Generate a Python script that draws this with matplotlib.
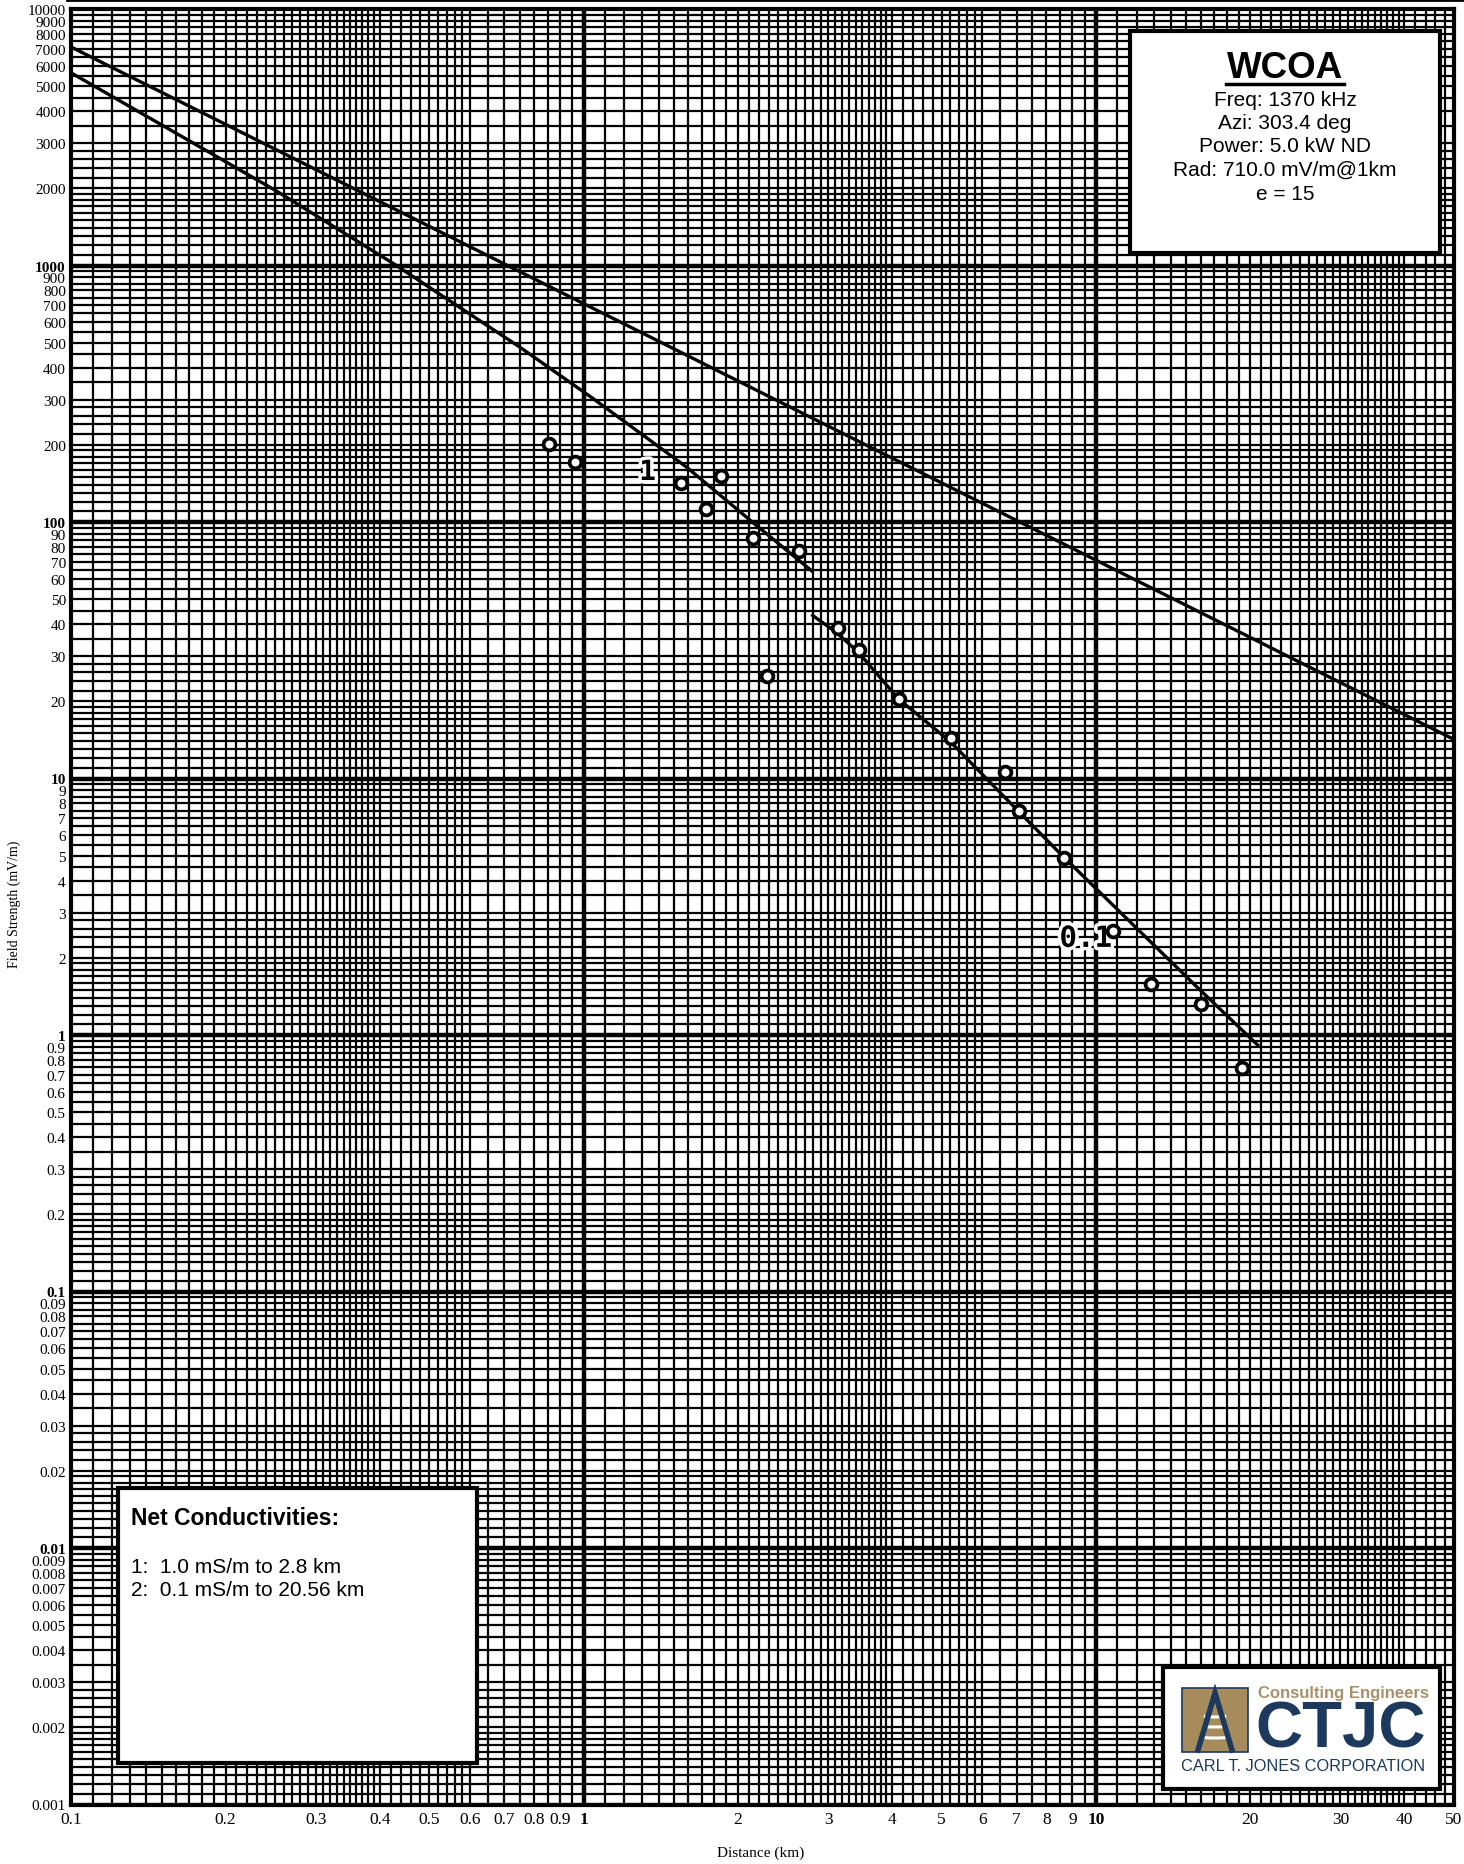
import matplotlib
matplotlib.use("Agg")
import matplotlib.pyplot as plt
import matplotlib.patches as mpatches
import matplotlib.patheffects as pe
from matplotlib.lines import Line2D
from matplotlib.ticker import NullLocator
import numpy as np

# inverse distance (unattenuated) field, 710 mV/m @ 1 km
inv_dist = [0.1, 50]
inv_field = [7100, 14.2]

# ground wave curve, 1.0 mS/m to 2.8 km
c1_dist = [0.1, 0.173, 0.251, 0.425, 0.75, 1.043, 1.586, 2.16, 2.79]
c1_field = [5630, 3000, 1955, 1018, 481, 303, 164, 98, 64.4]

# ground wave curve, 0.1 mS/m to 20.56 km
c2_dist = [2.8, 3.12, 3.44, 4.12, 5.2, 7.06, 8.64, 15.9, 20.69]
c2_field = [43.2, 37.0, 31.0, 20.4, 13.9, 7.45, 4.95, 1.51, 0.914]

# measured points
meas_dist = [0.856, 0.963, 1.55, 1.73, 1.85, 2.14, 2.28, 2.63, 3.13, 3.45,
             4.13, 5.21, 6.63, 7.08, 8.65, 10.78, 12.81, 16.06, 19.27]
meas_field = [201, 172, 142, 112, 151, 86.3, 25.0, 77.2, 38.5, 31.7,
              20.4, 14.4, 10.6, 7.45, 4.9, 2.54, 1.577, 1.324, 0.742]

x_tick_vals = [0.1, 0.2, 0.3, 0.4, 0.5, 0.6, 0.7, 0.8, 0.9, 1,
               2, 3, 4, 5, 6, 7, 8, 9, 10, 20, 30, 40, 50]
x_tick_labels = ["0.1", "0.2", "0.3", "0.4", "0.5", "0.6", "0.7", "0.8", "0.9", "1",
                 "2", "3", "4", "5", "6", "7", "8", "9", "10", "20", "30", "40", "50"]
y_decades = [0.001, 0.01, 0.1, 1, 10, 100, 1000]
y_mantissas = [1, 2, 3, 4, 5, 6, 7, 8, 9]

W, H = 1464, 1865
fig = plt.figure(figsize=(W / 100, H / 100), dpi=100)
fig.patch.set_facecolor("white")


def fx(px):
    return px / W


def fy(py):
    return 1 - py / H


ax = fig.add_axes([fx(71.4), fy(1805.5), (1454 - 71.4) / W, (1805.5 - 10) / H])
ax.set_xscale("log")
ax.set_yscale("log")
ax.set_xlim(0.1, 50)
ax.set_ylim(0.001, 10000)

# graph paper grid
xgrid = []
for d in [0.1, 1, 10]:
    rel = np.concatenate([np.arange(1, 4, 0.1), np.arange(4, 6, 0.2), np.arange(6, 10.001, 0.5)])
    xgrid.extend(np.round(rel * d, 6))
xgrid = [v for v in xgrid if v <= 50]
ygrid = []
for d in y_decades:
    rel = np.concatenate([np.arange(1, 2, 0.1), np.arange(2, 3, 0.2), np.arange(3, 10.001, 0.5)])
    ygrid.extend(np.round(rel * d, 8))

ax.vlines(xgrid, 0.001, 10000, colors="black", lw=1.6, zorder=1)
ax.hlines(ygrid, 0.1, 50, colors="black", lw=1.6, zorder=1)
ax.vlines([1, 10], 0.001, 10000, colors="black", lw=3.2, zorder=1)
ax.hlines([0.01, 0.1, 1, 10, 100, 1000], 0.1, 50, colors="black", lw=3.2, zorder=1)

for s in ax.spines.values():
    s.set_linewidth(3)

# curves
ax.plot(inv_dist, inv_field, color="black", lw=2.4, zorder=4)
ax.plot(c1_dist, c1_field, color="black", lw=2.4, zorder=4)
ax.plot(c2_dist, c2_field, color="black", lw=2.4, zorder=4)

halo = [pe.withStroke(linewidth=5, foreground="white")]
ax.text(1.333, 156.6, "1", family="DejaVu Sans Mono", fontweight="bold", fontsize=20,
        ha="center", va="center", zorder=5, path_effects=halo)
ax.text(9.55, 2.37, "0.1", family="DejaVu Sans Mono", fontweight="bold", fontsize=21,
        ha="center", va="center", zorder=5, path_effects=halo)

ax.plot(meas_dist, meas_field, linestyle="none", marker="o", ms=8.5, mew=2.7,
        mfc="white", mec="black", zorder=6)

# tick labels
ax.xaxis.set_minor_locator(NullLocator())
ax.yaxis.set_minor_locator(NullLocator())
ax.set_xticks(x_tick_vals, x_tick_labels)
y_vals = [m * d for d in y_decades for m in y_mantissas] + [10000]
y_labels = [f"{v:g}" for v in y_vals]
ax.set_yticks(y_vals, y_labels)
ax.tick_params(length=0)
ax.tick_params(axis="x", pad=5, labelsize=12.5)
ax.tick_params(axis="y", pad=4, labelsize=11)
for lab in ax.get_xticklabels():
    lab.set_family("Liberation Serif")
    if lab.get_text() in ("1", "10"):
        lab.set_fontweight("bold")
for lab in ax.get_yticklabels():
    lab.set_family("Liberation Serif")
    if lab.get_text() in ("1", "10", "100", "1000", "0.1", "0.01"):
        lab.set_fontweight("bold")

fig.text(fx(761), fy(1853), "Distance (km)", family="Liberation Serif", fontsize=11,
         ha="center", va="center")
fig.text(fx(14), fy(904), "Field Strength (mV/m)", family="Liberation Serif", fontsize=10,
         ha="center", va="center", rotation=90)

# top border line
fig.add_artist(Line2D([fx(67), 1], [fy(1), fy(1)], color="black", lw=2))


def box(x0, y0, x1, y1, lw=3):
    r = mpatches.Rectangle((fx(x0), fy(y1)), fx(x1) - fx(x0), fy(y0) - fy(y1),
                           transform=fig.transFigure, facecolor="white",
                           edgecolor="black", lw=lw, zorder=10)
    fig.add_artist(r)


# station box
box(1130, 32, 1440, 254)
fig.text(fx(1285), fy(68), "WCOA", family="Liberation Sans", fontweight="bold",
         fontsize=26.5, ha="center", va="center", zorder=11)
fig.add_artist(Line2D([fx(1226), fx(1344)], [fy(85), fy(85)], color="black", lw=2.5, zorder=11))
info_lines = ["Freq: 1370 kHz", "Azi: 303.4 deg", "Power: 5.0 kW ND",
              "Rad: 710.0 mV/m@1km", "e = 15"]
for i, s in enumerate(info_lines):
    fig.text(fx(1285), fy(100 + i * 23.5), s, family="Liberation Sans", fontsize=15,
             ha="center", va="center", zorder=11)

# conductivity box
box(117.7, 1489, 477, 1763.7)
fig.text(fx(131), fy(1519), "Net Conductivities:", family="Liberation Sans",
         fontweight="bold", fontsize=16.5, ha="left", va="center", zorder=11)
cond_lines = ["1:  1.0 mS/m to 2.8 km", "2:  0.1 mS/m to 20.56 km"]
for i, s in enumerate(cond_lines):
    fig.text(fx(131), fy(1567.5 + i * 23.5), s, family="Liberation Sans", fontsize=15,
             ha="left", va="center", zorder=11)

# logo box
box(1163, 1668, 1440, 1790)
navy = "#1d3a5e"
gold = "#a68c5c"
fig.add_artist(mpatches.Rectangle((fx(1182), fy(1753)), fx(1248) - fx(1182), fy(1689) - fy(1753),
                                  transform=fig.transFigure, facecolor=gold,
                                  edgecolor=navy, lw=1.2, zorder=11))
for yy, ww in [(1712, 46), (1722, 52), (1733, 58)]:
    arc = mpatches.Arc((fx(1215), fy(yy)), ww / W, 12 / H, theta1=200, theta2=340,
                       transform=fig.transFigure, color="white", lw=2.2, zorder=12)
    fig.add_artist(arc)
fig.add_artist(Line2D([fx(1198), fx(1215), fx(1232)], [fy(1751), fy(1694), fy(1751)],
                      color=navy, lw=4, zorder=13, solid_joinstyle="miter"))
fig.text(fx(1343), fy(1694), "Consulting Engineers", family="Liberation Sans",
         fontweight="bold", fontsize=12, color="#a8916a", ha="center", va="center", zorder=11)
fig.text(fx(1341), fy(1731), "CTJC", family="Liberation Sans", fontweight="bold",
         fontsize=47, color=navy, ha="center", va="center", zorder=11)
fig.text(fx(1303), fy(1767), "CARL T. JONES CORPORATION", family="Liberation Sans",
         fontsize=11.8, color=navy, ha="center", va="center", zorder=11)

fig.savefig("out.png", dpi=100)
